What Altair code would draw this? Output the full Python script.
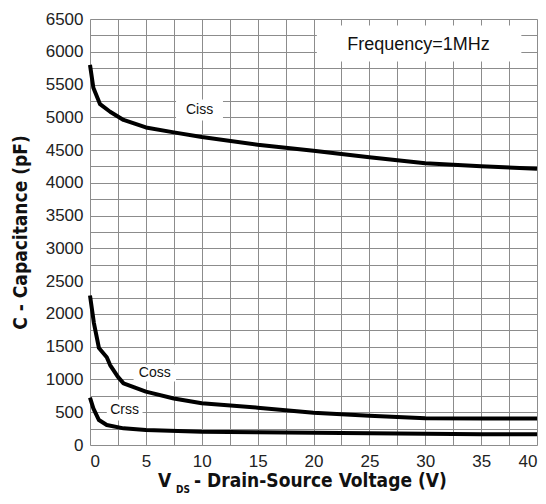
import altair as alt
import pandas as pd

# ---- data ----
ciss_v = [0, 0.3, 0.9, 1.8, 3, 5, 7.5, 10, 15, 20, 25, 30, 35, 40]
ciss_c = [5800, 5450, 5200, 5085, 4960, 4845, 4770, 4700, 4580, 4490, 4390, 4300, 4255, 4215]

coss_v = [0, 0.35, 0.8, 1.5, 1.8, 2.5, 3, 5, 7.5, 10, 15, 20, 25, 30, 35, 40]
coss_c = [2280, 1860, 1480, 1340, 1220, 1040, 940, 815, 710, 636, 570, 493, 447, 407, 403, 403]

crss_v = [0, 0.3, 0.8, 1.5, 3, 5, 10, 15, 20, 25, 30, 35, 40]
crss_c = [722, 560, 381, 305, 254, 230, 203, 195, 188, 180, 172, 165, 163]

label_text = ["Ciss", "Coss", "Crss"]
label_v = [9.8, 5.8, 3.1]
label_c = [5110, 1100, 534]
label_half_w = [2.1, 1.9, 1.6]
label_half_h = [160, 130, 160]

note_text = ["Frequency=1MHz"]
note_v = [29.4]
note_c = [6100]

x_ticks = [i * 2.5 for i in range(17)]
y_ticks = [i * 250 for i in range(27)]

TITLE_FONT = "DejaVu Sans Condensed"

rows = []
for name, vs, cs in (("Ciss", ciss_v, ciss_c), ("Coss", coss_v, coss_c), ("Crss", crss_v, crss_c)):
    for i, (v, c) in enumerate(zip(vs, cs)):
        rows.append({"series": name, "v": v, "c": c, "order": i})
df = pd.DataFrame(rows)

lab = pd.DataFrame({
    "text": label_text, "v": label_v, "c": label_c,
    "v1": [v - w for v, w in zip(label_v, label_half_w)],
    "v2": [v + w for v, w in zip(label_v, label_half_w)],
    "c1": [c - h for c, h in zip(label_c, label_half_h)],
    "c2": [c + h for c, h in zip(label_c, label_half_h)],
})
note = pd.DataFrame({
    "text": note_text, "v": note_v, "c": note_c,
    "v1": [20.3], "v2": [38.6], "c1": [5850], "c2": [6400],
})

W, H = 447, 426
xs = alt.Scale(domain=[0, 40], nice=False)
ys = alt.Scale(domain=[0, 6500], nice=False)

x_axis = alt.Axis(values=x_ticks, labelExpr="datum.value % 5 == 0 ? datum.label : ''",
                  ticks=False, domain=False, grid=True, gridColor="#8c8c8c", gridWidth=1,
                  labelFont="Liberation Sans", labelFontSize=17, labelColor="#222",
                  labelPadding=8, title=None, labelFlush=True, labelOverlap=False)
y_axis = alt.Axis(values=y_ticks, labelExpr="datum.value % 500 == 0 ? datum.label : ''",
                  ticks=False, domain=False, grid=True, gridColor="#8c8c8c", gridWidth=1,
                  labelFont="Liberation Sans", labelFontSize=17, labelColor="#222",
                  labelPadding=7, format="d", labelOverlap=False,
                  title="C - Capacitance (pF)", titleFont=TITLE_FONT,
                  titleFontSize=19, titleFontWeight="bold", titleColor="#111",
                  titlePadding=15, labelFlush=False)


def X(f):
    return alt.X(f, type="quantitative", scale=xs, axis=x_axis)


def Y(f):
    return alt.Y(f, type="quantitative", scale=ys, axis=y_axis)


lines = alt.Chart(df).mark_line(color="black", strokeWidth=4, strokeJoin="round").encode(
    x=X("v"), y=Y("c"), detail="series:N", order="order:Q")

boxes = alt.Chart(lab).mark_rect(color="white").encode(
    x=X("v1"), x2="v2", y=Y("c1"), y2="c2")
texts = alt.Chart(lab).mark_text(font="Liberation Sans", fontSize=14, color="#111").encode(
    x=X("v"), y=Y("c"), text="text:N")

nbox = alt.Chart(note).mark_rect(color="white").encode(
    x=X("v1"), x2="v2", y=Y("c1"), y2="c2")
ntext = alt.Chart(note).mark_text(font="Liberation Sans", fontSize=18, color="#111").encode(
    x=X("v"), y=Y("c"), text="text:N")

xt_main = alt.Chart(pd.DataFrame({"t": ["V"]})).mark_text(
    font=TITLE_FONT, fontWeight="bold", fontSize=19, align="left",
    baseline="alphabetic", color="#111").encode(
    x=alt.value(68), y=alt.value(468), text="t:N")
xt_sub = alt.Chart(pd.DataFrame({"t": ["DS"]})).mark_text(
    font=TITLE_FONT, fontWeight="bold", fontSize=10, align="left",
    baseline="alphabetic", color="#111").encode(
    x=alt.value(86), y=alt.value(474), text="t:N")
xt_rest = alt.Chart(pd.DataFrame({"t": ["- Drain-Source Voltage (V)"]})).mark_text(
    font=TITLE_FONT, fontWeight="bold", fontSize=19, align="left",
    baseline="alphabetic", color="#111").encode(
    x=alt.value(104), y=alt.value(468), text="t:N")

chart = alt.layer(nbox, ntext, lines, boxes, texts, xt_main, xt_sub, xt_rest).properties(
    width=W, height=H,
    autosize=alt.AutoSizeParams(type="none"),
    padding={"left": 82, "top": 11, "right": 1, "bottom": 51},
).configure_view(stroke="#555", strokeWidth=1.5).configure(background="white")

chart.save("out.html", embed_options={"renderer": "svg", "actions": False})
